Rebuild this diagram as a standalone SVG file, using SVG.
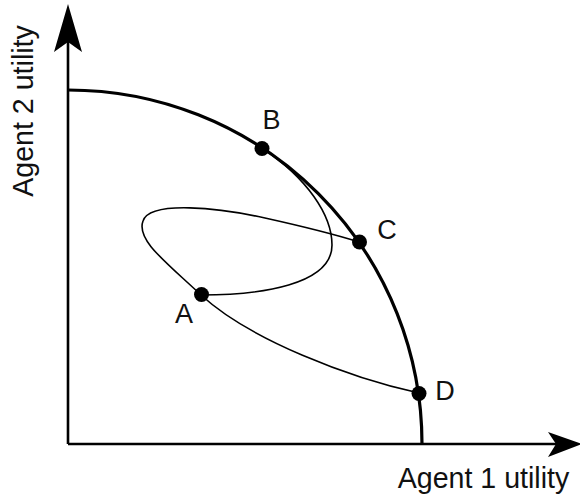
<svg xmlns="http://www.w3.org/2000/svg" width="580" height="501" viewBox="0 0 580 501">
  <style>
    .axis { stroke: #000; stroke-width: 2.6; fill: none; }
    .head { fill: #000; stroke: none; }
    .frontier { stroke: #000; stroke-width: 3.2; fill: none; }
    .thin { stroke: #000; stroke-width: 1.6; fill: none; }
    .dot { fill: #000; }
    .lbl { font-family: "Liberation Sans", Arial, sans-serif; font-size: 27px; fill: #111; }
    .axlbl { font-size: 28.6px; }
  </style>
  <rect width="580" height="501" fill="#fff"/>
  <g id="axes">
    <path class="axis" d="M68,444 V40 M68,444 H560"/>
    <path class="head" d="M68,4 L82,52 L68,42 L54,52 Z"/>
    <path class="head" d="M582,444 L548,432 L556,444 L548,457 Z"/>
    <text class="lbl axlbl" x="483.5" y="488" text-anchor="middle">Agent 1 utility</text>
    <text class="lbl axlbl" transform="translate(33,111) rotate(-90)" text-anchor="middle">Agent 2 utility</text>
  </g>
  <g id="frontier">
    <path class="frontier" d="M68,90 A354,354 0 0 1 422,444"/>
  </g>
  <g id="connectors">
    <path class="thin" d="M419,393 C350,378 250,340 201,295 C166,262 136,240 143,221 C150,200 220,208 265,218 C310,228 340,236 359,242"/>
    <path class="thin" d="M201,295 C260,295 332,285 332,245 C332,215 307,178 262,148"/>
  </g>
  <g id="A">
    <circle class="dot" cx="201.5" cy="294.5" r="7.5"/>
    <text class="lbl" x="184" y="323" text-anchor="middle">A</text>
  </g>
  <g id="B">
    <circle class="dot" cx="262" cy="148.5" r="7.5"/>
    <text class="lbl" x="271.5" y="128.5" text-anchor="middle">B</text>
  </g>
  <g id="C">
    <circle class="dot" cx="359.5" cy="242" r="7.5"/>
    <text class="lbl" x="387" y="238.5" text-anchor="middle">C</text>
  </g>
  <g id="D">
    <circle class="dot" cx="419" cy="393.5" r="7.5"/>
    <text class="lbl" x="445" y="399.5" text-anchor="middle">D</text>
  </g>
</svg>
